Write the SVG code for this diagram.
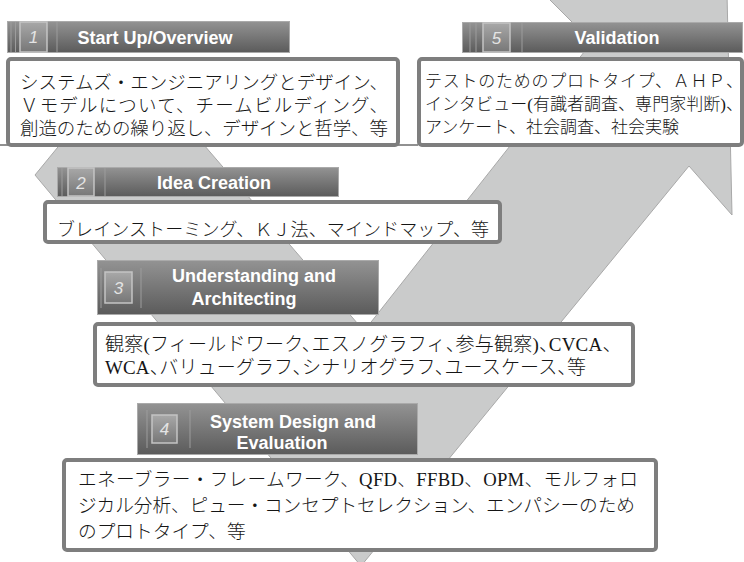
<svg xmlns="http://www.w3.org/2000/svg" width="744" height="562" viewBox="0 0 744 562">
<defs>
<linearGradient id="hg" x1="0" y1="0" x2="0" y2="1">
<stop offset="0" stop-color="#939393"/>
<stop offset="1" stop-color="#5b5b5b"/>
</linearGradient>
<linearGradient id="ng" x1="0" y1="0" x2="0" y2="1">
<stop offset="0" stop-color="#a8a8a8"/>
<stop offset="1" stop-color="#777777"/>
</linearGradient>
<style>
.hdr{fill:url(#hg);stroke:#aaaaaa;stroke-width:1}
.num{fill:url(#ng);stroke:#c4c4c4;stroke-width:1.5}
.sep{stroke:#9c9c9c;stroke-width:1}
.title{font-family:"Liberation Sans",Arial,sans-serif;font-weight:bold;font-size:18px;fill:#ffffff;text-anchor:middle}
.numt{font-family:"Liberation Sans",Arial,sans-serif;font-style:italic;font-size:17px;fill:#e4e4e4;text-anchor:middle}
.box{fill:#ffffff;stroke:#7e7e7e;stroke-width:4}
.jp{font-family:"Liberation Serif","Noto Sans CJK JP",serif;font-weight:300;fill:#151515}
.halt{font-feature-settings:"halt" 1}
</style>
</defs>
<rect width="744" height="562" fill="#ffffff"/>
<g id="connectors">
<polygon id="v-arrow" points="130,59 364,331 592,42 508,-42 724,-140 732,215 689,166 361,566 35,175" fill="#cacbcb" stroke="#a8a8a8" stroke-width="1"/>
<line x1="0" y1="145" x2="418" y2="145" stroke="#222222" stroke-width="1"/>
</g>
<g id="step1">
<rect class="hdr" x="7.5" y="21.5" width="282" height="31"/>
<line class="sep" x1="11" y1="22" x2="11" y2="52"/>
<line class="sep" x1="15.5" y1="22" x2="15.5" y2="52"/>
<rect class="num" x="20" y="22" width="27" height="30"/>
<line class="sep" x1="57" y1="22" x2="57" y2="52"/>
<text class="numt" x="33.5" y="43">1</text>
<text class="title" x="155" y="44" font-size="18.5">Start Up/Overview</text>
<rect class="box" x="8" y="59" width="390" height="86" rx="3"/>
<g class="jp" font-size="18.5">
<text x="20" y="89" textLength="368" lengthAdjust="spacing">システムズ・エンジニアリングとデザイン、</text>
<text x="20" y="112" textLength="368" lengthAdjust="spacing">Ｖモデルについて、チームビルディング、</text>
<text x="20" y="135" textLength="368" lengthAdjust="spacing">創造のための繰り返し、デザインと哲学、等</text>
</g>
</g>
<g id="step5">
<rect class="hdr" x="462.5" y="22.5" width="280" height="30"/>
<line class="sep" x1="470" y1="23" x2="470" y2="52"/>
<line class="sep" x1="476" y1="23" x2="476" y2="52"/>
<rect class="num" x="483" y="23" width="27" height="29"/>
<line class="sep" x1="522" y1="23" x2="522" y2="52"/>
<text class="numt" x="496.5" y="44">5</text>
<text class="title" x="617" y="44">Validation</text>
<rect class="box" x="419" y="59" width="323" height="86" rx="3"/>
<g class="jp" font-size="17">
<text x="425" y="87" textLength="318" lengthAdjust="spacing">テストのためのプロトタイプ、ＡＨＰ、</text>
<text x="425" y="110" textLength="318" lengthAdjust="spacing">インタビュー(有識者調査、専門家判断)、</text>
<text x="425" y="133">アンケート、社会調査、社会実験</text>
</g>
</g>
<g id="step2">
<rect class="hdr" x="57.5" y="167.5" width="281" height="29"/>
<line class="sep" x1="62" y1="168" x2="62" y2="196"/>
<rect class="num" x="68" y="168" width="26" height="28"/>
<line class="sep" x1="105" y1="168" x2="105" y2="196"/>
<text class="numt" x="81" y="189">2</text>
<text class="title" x="214" y="189">Idea Creation</text>
<rect class="box" x="45" y="202" width="455" height="40" rx="3"/>
<text class="jp" font-size="18" x="57" y="236" textLength="432" lengthAdjust="spacing">ブレインストーミング、ＫＪ法、マインドマップ、等</text>
</g>
<g id="step3">
<rect class="hdr" x="97.5" y="260.5" width="281" height="54"/>
<line class="sep" x1="101" y1="268" x2="101" y2="308"/>
<rect class="num" x="105" y="272" width="27" height="31"/>
<line class="sep" x1="141" y1="268" x2="141" y2="308"/>
<text class="numt" x="118.5" y="294">3</text>
<text class="title" x="254" y="282">Understanding and</text>
<text class="title" x="244" y="305">Architecting</text>
<rect class="box" x="95" y="324" width="538" height="61" rx="3"/>
<g class="jp halt" font-size="19">
<text x="105" y="351" textLength="507" lengthAdjust="spacing">観察(フィールドワーク、エスノグラフィ、参与観察)、CVCA、</text>
<text x="105" y="374" textLength="481" lengthAdjust="spacing">WCA、バリューグラフ、シナリオグラフ、ユースケース、等</text>
</g>
</g>
<g id="step4">
<rect class="hdr" x="137.5" y="403.5" width="280" height="51"/>
<line class="sep" x1="147" y1="410" x2="147" y2="448"/>
<rect class="num" x="152" y="415" width="25" height="28"/>
<line class="sep" x1="190" y1="410" x2="190" y2="448"/>
<text class="numt" x="164.5" y="435">4</text>
<text class="title" x="293" y="428">System Design and</text>
<text class="title" x="282" y="449">Evaluation</text>
<rect class="box" x="64" y="460" width="592" height="90" rx="3"/>
<g class="jp" font-size="18.7">
<text x="78" y="486" textLength="560" lengthAdjust="spacing">エネーブラー・フレームワーク、QFD、FFBD、OPM、モルフォロ</text>
<text x="78" y="512" textLength="557" lengthAdjust="spacing">ジカル分析、ピュー・コンセプトセレクション、エンパシーのため</text>
<text x="78" y="538">のプロトタイプ、等</text>
</g>
</g>
</svg>
